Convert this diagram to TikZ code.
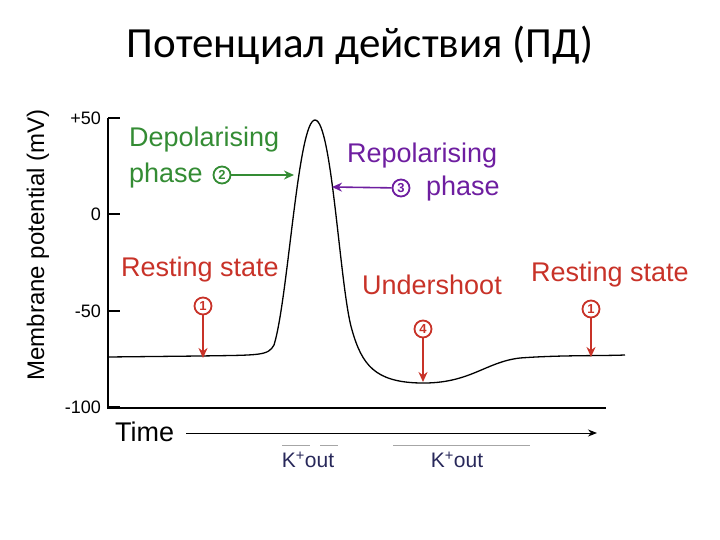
\documentclass[tikz,border=0pt]{standalone}
\usepackage{fontspec}
\setmainfont{Liberation Sans}
\newfontfamily\titlefont{Carlito}
\usetikzlibrary{arrows.meta}
\definecolor{dgreen}{RGB}{52,140,52}
\definecolor{dpurple}{RGB}{110,30,160}
\definecolor{dred}{RGB}{200,50,40}
\definecolor{knavy}{RGB}{40,40,90}
\tikzset{
 lbl/.style={font=\fontsize{27}{32}\selectfont, inner sep=0pt, align=left},
 tick/.style={font=\fontsize{18}{20}\selectfont, anchor=east, inner sep=0pt},
 num/.style={circle, draw, line width=1.8pt, inner sep=0pt, minimum size=17pt, font=\fontsize{13}{13}\selectfont\bfseries},
 arr/.style={-{Stealth[length=10pt,width=9pt]}, line width=1.6pt},
}
\begin{document}
\begin{tikzpicture}[x=1pt,y=-1pt]
\useasboundingbox (0,0) rectangle (720,540);
\node[font=\titlefont\fontsize{43}{48}\selectfont] (title) at (360,45) {Потенциал действия (ПД)};
\node[rotate=90, font=\fontsize{24}{26}\selectfont] (ylab) at (38,245) {Membrane potential (mV)};
% axes
\coordinate (ytop) at (108,118); \coordinate (ybot) at (108,408);
\coordinate (xend) at (606,408);
\draw[line width=1.6pt] (ytop) -- (ybot) -- (xend);
\foreach \y/\t/\n in {118/+50/a,214/0/b,311/-50/c,407/-100/d}{
  \draw[line width=1.2pt] (108,\y) -- (120,\y);
  \node[tick] (t\n) at (101,\y) {\t};
}
% curve
\draw[line width=1.3pt] (108,357) -- (200,356) .. controls (260,355) and (268,356) .. (274,345)
  .. controls (288,300) and (298,120) .. (315,120)
  .. controls (332,120) and (340,290) .. (352,330)
  .. controls (362,365) and (375,382) .. (420,383)
  .. controls (470,384) and (485,362) .. (520,358)
  .. controls (560,355) and (600,356) .. (625,355);
% depolarising
\node[lbl, text=dgreen, anchor=west] (dep) at (129,140) {Depolarising};
\node[lbl, text=dgreen, anchor=west] (ph2) at (129,176) {phase};
\node[num, draw=dgreen, text=dgreen] (n2) at (222,175) {2};
\coordinate (d2) at (294,175);
\draw[arr, dgreen] (n2) -- (d2);
% repolarising
\node[lbl, text=dpurple, anchor=west] (rep) at (347,156) {Repolarising};
\node[num, draw=dpurple, text=dpurple] (n3) at (401,188) {3};
\node[lbl, text=dpurple, anchor=west] (ph3) at (426,189) {phase};
\coordinate (d3) at (332,187);
\draw[arr, dpurple] (n3) -- (d3);
% resting 1
\node[lbl, text=dred, anchor=west] (rs1) at (121,270) {Resting state};
\node[num, draw=dred, text=dred] (n1a) at (203,306) {1};
\coordinate (r1) at (203,358);
\draw[arr, dred] (n1a) -- (r1);
% undershoot
\node[lbl, text=dred, anchor=west] (us) at (362,285) {Undershoot};
\node[num, draw=dred, text=dred] (n4) at (423,329) {4};
\coordinate (r4) at (423,382);
\draw[arr, dred] (n4) -- (r4);
% resting 2
\node[lbl, text=dred, anchor=west] (rs2) at (531,275) {Resting state};
\node[num, draw=dred, text=dred] (n1b) at (591,309) {1};
\coordinate (r1b) at (591,357);
\draw[arr, dred] (n1b) -- (r1b);
% time
\node[lbl, anchor=west] (time) at (115,432) {Time};
\coordinate (tend) at (597,433);
\draw[-{Stealth[length=9pt,width=7pt]}, line width=1pt] (186,433) -- (tend);
% K out
\draw[gray!70, line width=0.8pt] (282,445) -- (310,445) (320,445) -- (338,445) (393,445) -- (530,445);
\node[font=\fontsize{21}{24}\selectfont, text=knavy] (k1) at (308,460) {K\textsuperscript{+}out};
\node[font=\fontsize{21}{24}\selectfont, text=knavy] (k2) at (457,460) {K\textsuperscript{+}out};
\end{tikzpicture}
\end{document}
